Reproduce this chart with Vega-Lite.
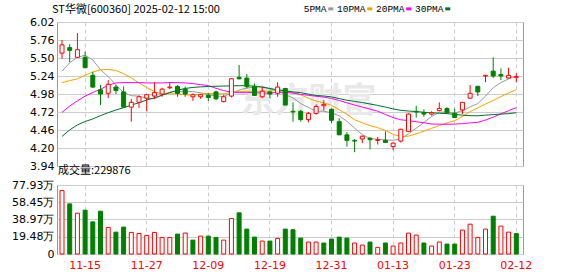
{
"$schema": "https://vega.github.io/schema/vega-lite/v6.json",
"padding": {"left": 0, "top": 3, "right": 0, "bottom": 0},
"background": "white",
"spacing": -8,
"config": {
  "font": "DejaVu Sans",
  "view": {"stroke": "#999999", "strokeWidth": 1},
  "axis": {"labelFont": "DejaVu Sans", "labelFontSize": 11, "labelColor": "#000000", "ticks": false, "domain": false, "gridColor": "#cccccc", "gridWidth": 1, "labelOverlap": false}
},
"resolve": {"scale": {"color": "independent"}, "legend": {"color": "independent"}},
"datasets": {
"k": [
{"d":"11-12","o":5.57,"h":5.76,"l":5.49,"c":5.69,"v":71.6,"vu":1,"5PMA":5.31,"10PMA":5.145,"20PMA":4.715,"30PMA":4.367},
{"d":"11-13","o":5.65,"h":5.70,"l":5.44,"c":5.61,"v":56.6,"vu":0,"5PMA":5.43,"10PMA":5.173,"20PMA":4.806,"30PMA":4.462},
{"d":"11-14","o":5.51,"h":5.86,"l":5.50,"c":5.62,"v":46.1,"vu":1,"5PMA":5.51,"10PMA":5.2,"20PMA":4.882,"30PMA":4.534},
{"d":"11-15","o":5.51,"h":5.59,"l":5.36,"c":5.36,"v":49.5,"vu":0,"5PMA":5.54,"10PMA":5.25,"20PMA":4.949,"30PMA":4.582},
{"d":"11-18","o":5.25,"h":5.30,"l":5.07,"c":5.08,"v":36.3,"vu":0,"5PMA":5.472,"10PMA":5.297,"20PMA":5.002,"30PMA":4.62},
{"d":"11-19","o":5.04,"h":5.11,"l":4.82,"c":4.98,"v":48.3,"vu":0,"5PMA":5.33,"10PMA":5.33,"20PMA":5.049,"30PMA":4.668},
{"d":"11-20","o":4.99,"h":5.18,"l":4.92,"c":5.12,"v":30.0,"vu":1,"5PMA":5.232,"10PMA":5.335,"20PMA":5.107,"30PMA":4.71},
{"d":"11-21","o":5.08,"h":5.11,"l":4.98,"c":5.03,"v":24.7,"vu":0,"5PMA":5.114,"10PMA":5.32,"20PMA":5.14,"30PMA":4.749},
{"d":"11-22","o":5.01,"h":5.09,"l":4.78,"c":4.79,"v":30.4,"vu":0,"5PMA":5.0,"10PMA":5.273,"20PMA":5.145,"30PMA":4.782},
{"d":"11-25","o":4.79,"h":4.91,"l":4.58,"c":4.86,"v":24.4,"vu":1,"5PMA":4.956,"10PMA":5.214,"20PMA":5.145,"30PMA":4.82},
{"d":"11-26","o":4.86,"h":4.96,"l":4.78,"c":4.94,"v":23.2,"vu":1,"5PMA":4.948,"10PMA":5.139,"20PMA":5.145,"30PMA":4.854},
{"d":"11-27","o":4.92,"h":4.98,"l":4.73,"c":4.97,"v":21.0,"vu":1,"5PMA":4.918,"10PMA":5.075,"20PMA":5.14,"30PMA":4.892},
{"d":"11-28","o":4.95,"h":5.15,"l":4.91,"c":5.00,"v":24.4,"vu":1,"5PMA":4.912,"10PMA":5.013,"20PMA":5.14,"30PMA":4.925},
{"d":"11-29","o":4.98,"h":5.07,"l":4.94,"c":5.05,"v":18.7,"vu":1,"5PMA":4.964,"10PMA":4.982,"20PMA":5.14,"30PMA":4.963},
{"d":"12-02","o":5.07,"h":5.15,"l":5.05,"c":5.08,"v":18.7,"vu":1,"5PMA":5.008,"10PMA":4.982,"20PMA":5.145,"30PMA":5.0},
{"d":"12-03","o":5.09,"h":5.11,"l":4.94,"c":4.99,"v":22.5,"vu":0,"5PMA":5.018,"10PMA":4.983,"20PMA":5.145,"30PMA":5.035},
{"d":"12-04","o":5.05,"h":5.09,"l":4.94,"c":4.98,"v":23.6,"vu":1,"5PMA":5.02,"10PMA":4.969,"20PMA":5.14,"30PMA":5.06},
{"d":"12-05","o":4.94,"h":4.99,"l":4.88,"c":4.97,"v":15.7,"vu":0,"5PMA":5.014,"10PMA":4.963,"20PMA":5.13,"30PMA":5.075},
{"d":"12-06","o":4.94,"h":4.98,"l":4.91,"c":4.97,"v":20.2,"vu":1,"5PMA":4.998,"10PMA":4.981,"20PMA":5.115,"30PMA":5.083},
{"d":"12-09","o":4.96,"h":4.99,"l":4.88,"c":4.93,"v":20.2,"vu":0,"5PMA":4.968,"10PMA":4.988,"20PMA":5.101,"30PMA":5.088},
{"d":"12-10","o":5.01,"h":5.03,"l":4.89,"c":4.91,"v":18.7,"vu":0,"5PMA":4.952,"10PMA":4.985,"20PMA":5.062,"30PMA":5.092},
{"d":"12-11","o":4.87,"h":4.97,"l":4.86,"c":4.94,"v":15.7,"vu":1,"5PMA":4.944,"10PMA":4.982,"20PMA":5.029,"30PMA":5.095},
{"d":"12-12","o":4.95,"h":5.21,"l":4.93,"c":5.20,"v":40.1,"vu":1,"5PMA":4.99,"10PMA":5.002,"20PMA":5.008,"30PMA":5.097},
{"d":"12-13","o":5.22,"h":5.40,"l":5.19,"c":5.20,"v":46.5,"vu":0,"5PMA":5.036,"10PMA":5.017,"20PMA":5.0,"30PMA":5.1},
{"d":"12-16","o":5.21,"h":5.27,"l":5.06,"c":5.09,"v":28.1,"vu":0,"5PMA":5.068,"10PMA":5.018,"20PMA":5.0,"30PMA":5.1},
{"d":"12-17","o":5.09,"h":5.13,"l":4.95,"c":4.96,"v":19.1,"vu":0,"5PMA":5.078,"10PMA":5.015,"20PMA":4.999,"30PMA":5.092},
{"d":"12-18","o":4.94,"h":5.08,"l":4.92,"c":5.02,"v":14.6,"vu":1,"5PMA":5.094,"10PMA":5.019,"20PMA":4.994,"30PMA":5.078},
{"d":"12-19","o":5.01,"h":5.03,"l":4.92,"c":4.98,"v":14.6,"vu":0,"5PMA":5.05,"10PMA":5.02,"20PMA":4.992,"30PMA":5.06},
{"d":"12-20","o":4.99,"h":5.15,"l":4.94,"c":5.08,"v":17.6,"vu":1,"5PMA":5.026,"10PMA":5.031,"20PMA":5.006,"30PMA":5.04},
{"d":"12-23","o":5.06,"h":5.07,"l":4.82,"c":4.82,"v":28.1,"vu":0,"5PMA":4.972,"10PMA":5.02,"20PMA":5.004,"30PMA":5.025},
{"d":"12-24","o":4.73,"h":4.86,"l":4.58,"c":4.72,"v":27.4,"vu":0,"5PMA":4.924,"10PMA":5.001,"20PMA":4.993,"30PMA":5.01},
{"d":"12-25","o":4.73,"h":4.75,"l":4.58,"c":4.61,"v":18.0,"vu":0,"5PMA":4.842,"10PMA":4.968,"20PMA":4.975,"30PMA":5.0},
{"d":"12-26","o":4.61,"h":4.72,"l":4.57,"c":4.70,"v":13.5,"vu":1,"5PMA":4.786,"10PMA":4.918,"20PMA":4.96,"30PMA":4.978},
{"d":"12-27","o":4.70,"h":4.83,"l":4.68,"c":4.80,"v":13.5,"vu":1,"5PMA":4.73,"10PMA":4.878,"20PMA":4.948,"30PMA":4.959},
{"d":"12-30","o":4.81,"h":4.89,"l":4.74,"c":4.83,"v":12.4,"vu":0,"5PMA":4.732,"10PMA":4.852,"20PMA":4.935,"30PMA":4.951},
{"d":"12-31","o":4.76,"h":4.77,"l":4.56,"c":4.60,"v":16.9,"vu":0,"5PMA":4.708,"10PMA":4.816,"20PMA":4.916,"30PMA":4.938},
{"d":"01-02","o":4.58,"h":4.63,"l":4.39,"c":4.39,"v":19.1,"vu":0,"5PMA":4.664,"10PMA":4.753,"20PMA":4.886,"30PMA":4.914},
{"d":"01-03","o":4.39,"h":4.43,"l":4.22,"c":4.31,"v":18.0,"vu":0,"5PMA":4.586,"10PMA":4.686,"20PMA":4.853,"30PMA":4.89},
{"d":"01-06","o":4.31,"h":4.33,"l":4.14,"c":4.30,"v":12.4,"vu":1,"5PMA":4.486,"10PMA":4.608,"20PMA":4.82,"30PMA":4.873},
{"d":"01-07","o":4.33,"h":4.38,"l":4.27,"c":4.37,"v":10.1,"vu":1,"5PMA":4.394,"10PMA":4.563,"20PMA":4.792,"30PMA":4.857},
{"d":"01-08","o":4.34,"h":4.36,"l":4.18,"c":4.32,"v":13.5,"vu":0,"5PMA":4.338,"10PMA":4.523,"20PMA":4.762,"30PMA":4.836},
{"d":"01-09","o":4.31,"h":4.36,"l":4.25,"c":4.32,"v":7.5,"vu":1,"5PMA":4.324,"10PMA":4.494,"20PMA":4.731,"30PMA":4.815},
{"d":"01-10","o":4.31,"h":4.44,"l":4.28,"c":4.28,"v":12.4,"vu":0,"5PMA":4.318,"10PMA":4.452,"20PMA":4.685,"30PMA":4.791},
{"d":"01-13","o":4.22,"h":4.28,"l":4.17,"c":4.27,"v":9.0,"vu":1,"5PMA":4.312,"10PMA":4.399,"20PMA":4.639,"30PMA":4.765},
{"d":"01-14","o":4.30,"h":4.48,"l":4.28,"c":4.47,"v":12.4,"vu":1,"5PMA":4.332,"10PMA":4.363,"20PMA":4.608,"30PMA":4.744},
{"d":"01-15","o":4.44,"h":4.70,"l":4.43,"c":4.69,"v":23.6,"vu":1,"5PMA":4.406,"10PMA":4.372,"20PMA":4.594,"30PMA":4.734},
{"d":"01-16","o":4.73,"h":4.81,"l":4.64,"c":4.72,"v":21.4,"vu":1,"5PMA":4.486,"10PMA":4.405,"20PMA":4.579,"30PMA":4.726},
{"d":"01-17","o":4.71,"h":4.76,"l":4.65,"c":4.69,"v":12.4,"vu":0,"5PMA":4.568,"10PMA":4.443,"20PMA":4.565,"30PMA":4.716},
{"d":"01-20","o":4.69,"h":4.73,"l":4.67,"c":4.71,"v":9.0,"vu":1,"5PMA":4.656,"10PMA":4.484,"20PMA":4.546,"30PMA":4.708},
{"d":"01-21","o":4.74,"h":4.86,"l":4.73,"c":4.77,"v":13.5,"vu":1,"5PMA":4.716,"10PMA":4.524,"20PMA":4.544,"30PMA":4.702},
{"d":"01-22","o":4.77,"h":4.79,"l":4.70,"c":4.71,"v":11.2,"vu":0,"5PMA":4.72,"10PMA":4.563,"20PMA":4.543,"30PMA":4.696},
{"d":"01-23","o":4.70,"h":4.77,"l":4.64,"c":4.64,"v":11.2,"vu":0,"5PMA":4.704,"10PMA":4.595,"20PMA":4.545,"30PMA":4.686},
{"d":"01-24","o":4.75,"h":4.86,"l":4.69,"c":4.86,"v":27.0,"vu":1,"5PMA":4.738,"10PMA":4.653,"20PMA":4.553,"30PMA":4.674},
{"d":"01-27","o":4.92,"h":5.11,"l":4.91,"c":4.99,"v":33.7,"vu":1,"5PMA":4.794,"10PMA":4.725,"20PMA":4.562,"30PMA":4.667},
{"d":"02-05","o":5.09,"h":5.10,"l":4.95,"c":5.01,"v":18.7,"vu":1,"5PMA":4.842,"10PMA":4.779,"20PMA":4.571,"30PMA":4.665},
{"d":"02-06","o":5.24,"h":5.25,"l":5.15,"c":5.25,"v":28.1,"vu":1,"5PMA":4.95,"10PMA":4.835,"20PMA":4.604,"30PMA":4.674},
{"d":"02-07","o":5.31,"h":5.51,"l":5.21,"c":5.24,"v":42.7,"vu":0,"5PMA":5.07,"10PMA":4.887,"20PMA":4.646,"30PMA":4.682},
{"d":"02-10","o":5.26,"h":5.35,"l":5.18,"c":5.24,"v":31.5,"vu":1,"5PMA":5.146,"10PMA":4.942,"20PMA":4.693,"30PMA":4.69},
{"d":"02-11","o":5.21,"h":5.36,"l":5.20,"c":5.25,"v":24.7,"vu":1,"5PMA":5.198,"10PMA":4.996,"20PMA":4.74,"30PMA":4.696},
{"d":"02-12","o":5.22,"h":5.28,"l":5.15,"c":5.23,"v":22.99,"vu":0,"5PMA":5.242,"10PMA":5.042,"20PMA":4.783,"30PMA":4.71}
]
},
"vconcat": [
{
  "width": 466,
  "height": 144,
  "title": {"text": "ST华微[600360] 2025-02-12 15:00", "anchor": "start", "frame": "group", "font": "Noto Sans CJK SC", "fontSize": 11, "fontWeight": "normal", "color": "#000000", "offset": -11, "dx": -5},
  "data": {"name": "k"},
  "encoding": {
    "x": {"field": "d", "type": "ordinal", "title": null,
      "scale": {"domain": ["11-12","11-13","11-14","11-15","11-18","11-19","11-20","11-21","11-22","11-25","11-26","11-27","11-28","11-29","12-02","12-03","12-04","12-05","12-06","12-09","12-10","12-11","12-12","12-13","12-16","12-17","12-18","12-19","12-20","12-23","12-24","12-25","12-26","12-27","12-30","12-31","01-02","01-03","01-06","01-07","01-08","01-09","01-10","01-13","01-14","01-15","01-16","01-17","01-20","01-21","01-22","01-23","01-24","01-27","02-05","02-06","02-07","02-10","02-11","02-12"], "paddingInner": 0, "paddingOuter": 0.26, "align": 0.29},
      "axis": {"values": ["11-15","11-27","12-09","12-19","12-31","01-13","01-23","02-12"], "labels": false, "ticks": false, "domain": false, "grid": true, "gridDash": [4, 3], "bandPosition": 0.5, "minExtent": 0, "maxExtent": 0}
    },
    "y": {"type": "quantitative", "title": null,
      "scale": {"domain": [3.94, 6.02], "nice": false, "zero": false},
      "axis": {"values": [3.94, 4.2, 4.46, 4.72, 4.98, 5.24, 5.5, 5.76, 6.02], "format": ".2f", "grid": true, "labelPadding": 3, "labelOverlap": false, "minExtent": 56, "maxExtent": 56}}
  },
  "layer": [
    {
      "data": {"values": [{"t": "东方财富"}]},
      "mark": {"type": "text", "font": "Noto Sans CJK SC", "fontSize": 34, "fontWeight": "bold", "color": "#e9e9e9", "align": "center", "baseline": "middle"},
      "encoding": {"x": {"datum": "12-26"}, "y": {"datum": 4.86}, "text": {"field": "t"}}
    },
    {
      "transform": [{"fold": ["5PMA", "10PMA", "20PMA", "30PMA"], "as": ["key", "val"]}],
      "mark": {"type": "line", "strokeWidth": 1},
      "encoding": {
        "y": {"field": "val"},
        "color": {"field": "key", "type": "nominal",
          "scale": {"domain": ["5PMA", "10PMA", "20PMA", "30PMA"], "range": ["#9a9a9a", "#f5a300", "#ff00ff", "#006f30"]},
          "legend": {"title": null, "orient": "none", "legendX": 269, "legendY": -18, "direction": "horizontal", "symbolType": "stroke", "symbolSize": 25, "symbolStrokeWidth": 3, "labelFont": "Liberation Mono", "labelFontSize": 9.5, "labelColor": "#000000", "labelAlign": "right", "labelOffset": -9, "columnPadding": -4, "padding": 0}
        }
      }
    },
    {
      "mark": {"type": "rule", "strokeWidth": 1},
      "encoding": {
        "y": {"field": "l"},
        "y2": {"field": "h"},
        "color": {"condition": {"test": "datum.c >= datum.o", "value": "#ff0000"}, "value": "#008000"}
      }
    },
    {
      "mark": {"type": "bar", "width": 4, "strokeWidth": 1},
      "encoding": {
        "y": {"field": "o"},
        "y2": {"field": "c"},
        "fill": {"condition": {"test": "datum.c >= datum.o", "value": "#ffffff"}, "value": "#008000"},
        "stroke": {"condition": {"test": "datum.c >= datum.o", "value": "#ff0000"}, "value": "#008000"}
      }
    }
  ]
},
{
  "width": 466,
  "height": 69,
  "title": {"text": "成交量:229876", "anchor": "start", "frame": "group", "font": "Noto Sans CJK SC", "fontSize": 11, "fontWeight": "normal", "color": "#000000", "offset": 3, "dx": 1},
  "data": {"name": "k"},
  "mark": {"type": "bar", "width": 4, "strokeWidth": 1},
  "encoding": {
    "x": {"field": "d", "type": "ordinal", "title": null,
      "scale": {"domain": ["11-12","11-13","11-14","11-15","11-18","11-19","11-20","11-21","11-22","11-25","11-26","11-27","11-28","11-29","12-02","12-03","12-04","12-05","12-06","12-09","12-10","12-11","12-12","12-13","12-16","12-17","12-18","12-19","12-20","12-23","12-24","12-25","12-26","12-27","12-30","12-31","01-02","01-03","01-06","01-07","01-08","01-09","01-10","01-13","01-14","01-15","01-16","01-17","01-20","01-21","01-22","01-23","01-24","01-27","02-05","02-06","02-07","02-10","02-11","02-12"], "paddingInner": 0, "paddingOuter": 0.26, "align": 0.29},
      "axis": {"values": ["11-15","11-27","12-09","12-19","12-31","01-13","01-23","02-12"], "labelColor": "#ff0000", "labelAngle": 0, "labelPadding": 5, "ticks": false, "domain": false, "grid": true, "gridDash": [4, 3], "bandPosition": 0.5}
    },
    "y": {"field": "v", "type": "quantitative", "title": null,
      "scale": {"domain": [0, 77.93], "nice": false},
      "axis": {"values": [0, 19.48, 38.97, 58.45, 77.93], "labelExpr": "datum.value < 1 ? '0' : format(datum.value, '.2f') + '万'", "grid": true, "labelPadding": 3, "labelOverlap": false, "minExtent": 56, "maxExtent": 56}},
    "fill": {"condition": {"test": "datum.vu == 1", "value": "#ffffff"}, "value": "#008000"},
    "stroke": {"condition": {"test": "datum.vu == 1", "value": "#ff0000"}, "value": "#008000"}
  }
}
]
}
